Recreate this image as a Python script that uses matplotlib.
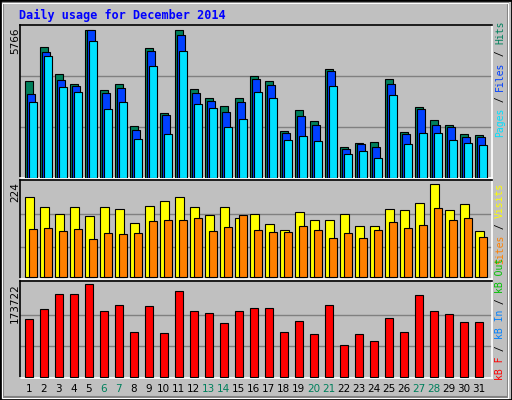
import matplotlib
matplotlib.use("Agg")
import matplotlib.pyplot as plt
from matplotlib.patches import Rectangle
import numpy as np

days = list(range(1, 32))
weekend = [6, 7, 13, 14, 20, 21, 27, 28]
hits = [3771,5103,4046,3654,5766,3419,3654,2010,5063,2519,5729,3458,3106,2793,3106,3967,3771,1814,2636,2205,4241,1188,1344,1383,3850,1775,2754,2245,2049,1697,1657]
files = [3263,4907,3811,3576,5729,3302,3497,1853,4946,2440,5572,3302,2988,2558,2949,3850,3615,1736,2401,2049,4163,1109,1305,1188,3654,1697,2675,2049,1971,1579,1579]
pages = [2949,4750,3537,3341,5337,2675,2949,1501,4359,1697,4946,2871,2714,1971,2284,3341,3106,1462,1618,1422,3576,914,1031,796,3223,1305,1736,1736,1462,1344,1266]
visits = [192,168,151,168,146,168,163,129,170,183,192,168,149,168,141,151,127,112,156,136,136,151,122,122,163,161,178,224,161,175,110]
sites = [114,117,110,114,90,105,102,105,134,136,136,141,110,119,149,112,107,107,122,112,93,105,93,112,131,117,124,166,136,141,97]
kbytes = [109048,128068,154696,154696,173722,124264,135676,84322,133774,82420,160402,124264,120460,101440,124264,129970,129970,84322,105244,80518,135676,59596,80518,67204,110950,84322,152794,124264,118558,103342,103342]

W, H = 512, 400
BG = "#C0C0C0"
fig = plt.figure(figsize=(W/100, H/100), dpi=100, facecolor=BG)
MONO = "DejaVu Sans Mono"

fig.patches.append(Rectangle((0, 0), 1, 1, transform=fig.transFigure, fill=False, ec="black", lw=2))
fig.patches.append(Rectangle((3/W, 3/H), 1-7/W, 1-6/H, transform=fig.transFigure, fill=False, ec="#808080", lw=1.5))
fig.patches.append(Rectangle((2/W, 2/H), 1-6/W, 1-5/H, transform=fig.transFigure, fill=False, ec="white", lw=0.8))

def add_ax(top, bottom):
    l, r = 20, 492
    ax = fig.add_axes([l/W, 1-bottom/H, (r-l)/W, (bottom-top)/H])
    ax.set_facecolor(BG)
    ax.spines["top"].set_color("black")
    ax.spines["left"].set_color("black")
    ax.spines["bottom"].set_color("white")
    ax.spines["right"].set_color("white")
    for s in ax.spines.values():
        s.set_linewidth(1.2)
    ax.set_xlim(-0.333, 31.13)
    ax.tick_params(left=False, bottom=False, labelleft=False, labelbottom=False)
    return ax

x = np.arange(31)
ek = dict(edgecolor="black", linewidth=0.8, align="edge", zorder=3)

ax1 = add_ax(25, 178)
ax1.set_ylim(0, 5942)
for g in (5942/3, 2*5942/3):
    ax1.axhline(g, color="#808080", lw=1, zorder=1)
ax1.bar(x, hits, width=0.51, color="#00805C", **ek)
ax1.bar(x+0.133, files, width=0.51, color="#0040FF", **ek)
ax1.bar(x+0.267, pages, width=0.51, color="#00E0FF", **ek)

ax2 = add_ax(180, 279)
ax2.set_ylim(-6, 234)
for g in (72, 151):
    ax2.axhline(g, color="#808080", lw=1, zorder=1)
ax2.bar(x, visits, width=0.6, color="#FFFF00", **ek)
ax2.bar(x+0.267, sites, width=0.53, color="#FF8000", **ek)

ax3 = add_ax(281, 378)
ax3.set_ylim(-2500, 180000)
for g in (57900, 115800):
    ax3.axhline(g, color="#808080", lw=1, zorder=1)
ax3.bar(x, kbytes, width=0.51, color="#FF0000", **ek)

for i, d in enumerate(days):
    xp = ax3.transData.transform((i + 0.25, 0))[0] / W
    fig.text(xp, 1-389/H, str(d), ha="center", va="center", fontsize=7.5,
             color="#00805C" if d in weekend else "black", family="DejaVu Sans")

fig.text(19/W, 1-15/H, "Daily usage for December 2014", color="#0000FF",
         family=MONO, fontweight="bold", fontsize=8.5, va="center", ha="left")

for txt, top in (("5766", 27), ("224", 182), ("173722", 283)):
    fig.text(15/W, 1-top/H, txt, rotation=90, ha="center", va="top",
             family="DejaVu Sans", fontsize=7.5)

CW = 5.8
def vlegend(pieces, ybottom):
    y = ybottom
    for s, c in pieces:
        fig.text(500/W, 1-y/H, s, rotation=90, ha="center", va="bottom",
                 family=MONO, fontsize=7, color=c)
        y -= len(s) * CW

vlegend([("Pages", "#00E0FF"), (" / ", "black"), ("Files", "#0040FF"),
         (" / ", "black"), ("Hits", "#00805C")], 137)
vlegend([("Sites", "#FF8000"), (" / ", "black"), ("Visits", "#FFFF00")], 264)
vlegend([("kB F", "#FF0000"), (" / ", "black"), ("kB In", "#0080FF"),
         (" / ", "black"), ("kB Out", "#00C000")], 380)

fig.savefig("out.png", dpi=100, facecolor=BG)
